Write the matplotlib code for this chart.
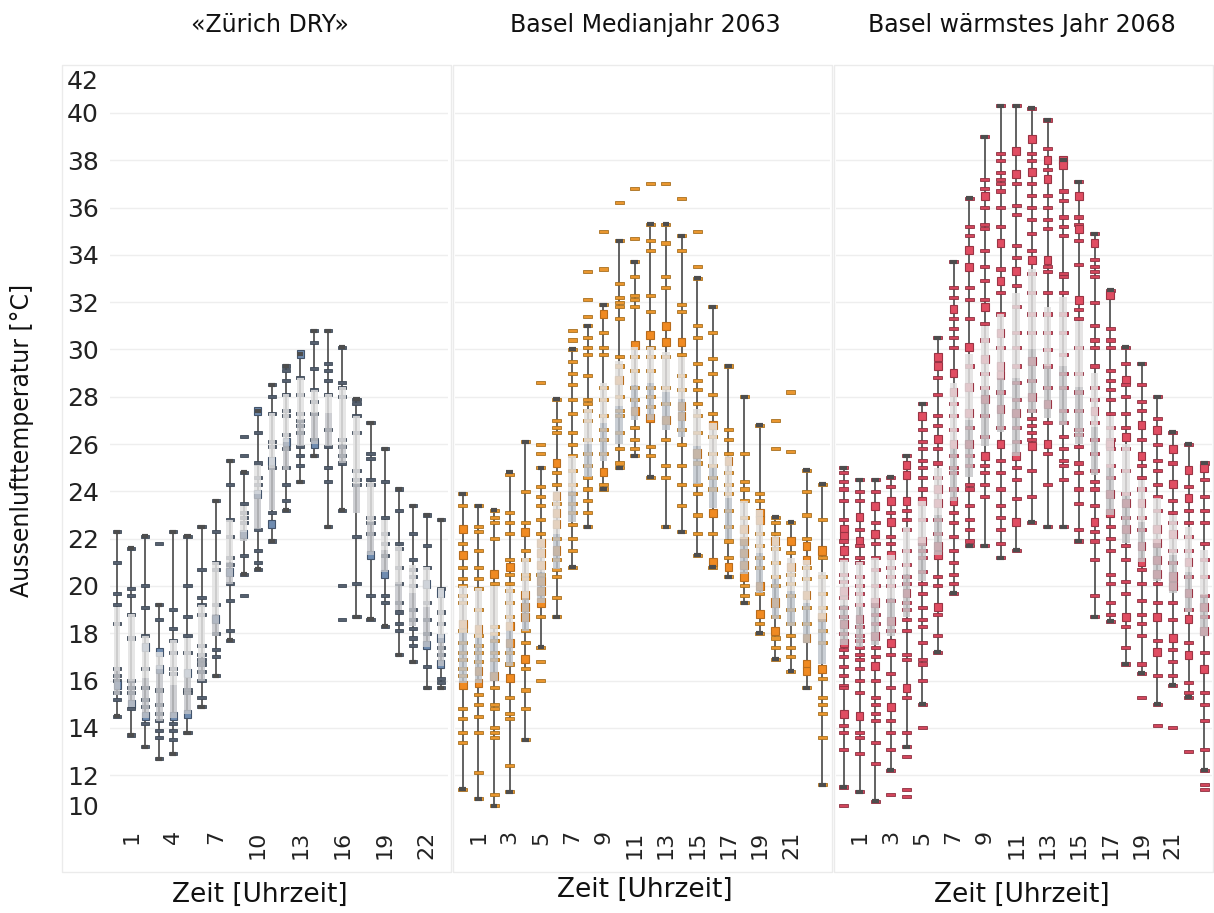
from collections import Counter
import matplotlib.pyplot as plt
from matplotlib.patches import Rectangle

hours = list(range(24))

# ---------------- «Zürich DRY» ----------------
hi1 = [22.3, 21.6, 22.1, 19.2, 22.3, 22.1, 22.5, 23.6, 25.3, 24.8, 27.4, 28.5,
       29.3, 29.8, 30.8, 30.8, 30.1, 27.9, 26.9, 25.8, 24.1, 23.4, 23.0, 22.8]
lo1 = [14.5, 13.7, 13.2, 12.7, 12.9, 13.8, 14.9, 16.2, 17.7, 20.5, 20.7, 21.9,
       23.2, 24.4, 25.5, 22.5, 23.2, 18.7, 18.6, 18.3, 17.1, 16.8, 15.7, 15.7]
bhi1 = [19.1, 18.8, 17.9, 17.2, 17.7, 17.8, 19.2, 21.0, 22.8, 23.4, 25.1, 27.3,
        28.1, 28.8, 28.3, 28.1, 28.4, 27.2, 24.4, 22.8, 21.7, 20.9, 20.8, 19.9]
med1 = [16.4, 16.0, 16.1, 16.5, 15.8, 16.1, 17.0, 18.8, 21.0, 22.3, 23.9, 25.0,
        26.1, 27.0, 27.3, 27.3, 26.0, 24.3, 22.7, 21.5, 20.1, 19.7, 19.1, 17.8]
blo1 = [15.4, 14.9, 14.4, 14.3, 14.4, 14.6, 16.0, 17.9, 20.1, 21.9, 22.4, 23.2,
        24.9, 25.9, 26.0, 25.9, 25.2, 23.1, 21.3, 20.6, 19.0, 18.3, 17.4, 16.6]
days1 = [
    [22.3, 21.0, 19.7, 19.2, 18.4, 16.5, 16.2, 16.0, 15.8, 15.8, 15.5, 15.2, 14.5],
    [21.6, 19.9, 19.6, 18.8, 17.8, 16.0, 15.7, 15.5, 15.0, 15.0, 14.8, 13.7],
    [22.1, 20.0, 19.1, 17.9, 17.4, 17.4, 16.5, 15.7, 15.2, 14.9, 14.5, 14.5, 14.2, 13.2],
    [21.8, 19.2, 18.6, 17.2, 17.2, 16.5, 16.5, 15.6, 15.0, 14.6, 14.3, 13.9, 13.6, 12.7],
    [22.3, 19.0, 18.2, 17.7, 17.2, 16.5, 16.3, 14.5, 14.5, 14.2, 13.9, 13.5, 12.9],
    [22.1, 20.0, 18.7, 17.9, 17.2, 16.3, 16.3, 15.6, 15.5, 14.6, 14.6, 13.8],
    [22.5, 20.7, 19.5, 19.2, 18.8, 17.5, 17.1, 16.9, 16.7, 16.4, 16.0, 15.3, 14.9],
    [23.6, 22.3, 21.0, 20.7, 19.2, 18.6, 18.6, 18.0, 17.3, 17.0, 16.2],
    [25.3, 24.3, 22.8, 22.1, 21.2, 20.9, 20.6, 20.6, 20.1, 19.4, 18.1, 17.7],
    [26.3, 25.5, 24.8, 23.5, 23.1, 22.9, 22.7, 22.2, 22.2, 21.3, 20.5, 19.6],
    [27.4, 27.4, 26.5, 25.2, 24.6, 24.3, 23.9, 23.9, 22.4, 21.5, 21.0, 20.7],
    [28.5, 28.0, 27.3, 26.1, 25.9, 25.3, 25.3, 25.0, 23.1, 22.6, 22.6, 21.9],
    [29.3, 29.1, 28.7, 28.1, 27.4, 27.2, 26.4, 26.1, 26.1, 25.8, 25.0, 24.3, 23.6, 23.2],
    [29.8, 29.8, 28.8, 28.1, 27.3, 27.0, 26.8, 26.5, 25.9, 25.5, 25.1, 24.4],
    [30.8, 30.3, 29.2, 28.3, 27.8, 27.3, 26.2, 26.0, 26.0, 25.5],
    [30.8, 29.4, 29.1, 28.7, 28.1, 26.6, 25.9, 25.0, 24.4, 22.5],
    [30.1, 28.6, 28.4, 28.0, 26.2, 25.9, 25.5, 25.2, 23.2, 20.0, 18.6],
    [27.9, 27.7, 27.2, 26.5, 24.9, 24.5, 24.3, 22.1, 20.1, 18.7],
    [26.9, 25.6, 25.4, 24.5, 24.3, 22.9, 22.7, 22.2, 21.3, 21.3, 19.6, 18.6],
    [25.8, 24.4, 22.9, 22.2, 21.8, 21.3, 20.5, 20.5, 19.6, 19.3, 18.3],
    [24.1, 23.2, 21.8, 21.6, 20.8, 20.1, 19.3, 18.9, 18.4, 18.1, 17.1],
    [23.4, 22.2, 21.1, 20.7, 20.4, 20.0, 19.0, 18.6, 18.2, 17.8, 17.5, 16.8],
    [23.0, 21.7, 20.8, 20.1, 20.1, 19.3, 18.6, 18.0, 17.5, 17.5, 16.6, 15.7],
    [22.8, 19.9, 19.7, 19.7, 18.9, 18.4, 17.8, 17.8, 17.4, 17.1, 16.7, 16.7, 16.1, 15.9, 15.7],
]

# ---------------- Basel Medianjahr 2063 ----------------
hi2 = [23.9, 23.4, 23.2, 24.8, 26.1, 25.0, 27.9, 30.0, 31.0, 31.9, 34.6, 33.7,
       35.3, 35.3, 34.8, 33.0, 31.8, 29.3, 28.0, 26.8, 22.9, 22.7, 24.9, 24.3]
lo2 = [11.4, 11.0, 10.7, 11.3, 13.5, 17.4, 18.7, 20.8, 22.5, 24.1, 25.0, 25.5,
       24.6, 22.5, 22.3, 21.3, 20.8, 20.4, 19.3, 18.0, 16.9, 16.4, 15.7, 11.6]
bhi2 = [20.0, 19.9, 20.0, 20.0, 21.2, 22.0, 24.0, 25.5, 27.5, 28.6, 29.5, 30.1,
        30.1, 29.9, 29.7, 27.5, 26.9, 25.5, 23.6, 23.2, 22.1, 21.2, 21.1, 20.6]
med2 = [18.0, 17.8, 17.9, 18.1, 19.5, 20.6, 22.2, 24.0, 26.0, 26.9, 27.6, 28.5,
        28.6, 28.2, 27.9, 25.9, 25.0, 23.7, 22.0, 21.4, 20.3, 19.8, 19.3, 18.6]
blo2 = [15.9, 15.9, 16.0, 16.6, 18.1, 19.3, 20.7, 22.7, 24.6, 25.3, 26.0, 27.0,
        27.0, 26.6, 26.3, 24.3, 23.3, 22.0, 20.5, 19.7, 18.6, 18.3, 17.6, 16.7]
days2 = [
    [23.9, 23.4, 22.4, 22.4, 21.8, 21.3, 21.3, 20.8, 20.3, 20.0, 19.6, 19.3, 18.4, 18.4, 18.1, 17.6, 17.2, 16.9, 16.5, 16.2, 15.8, 15.8, 14.8, 14.4, 13.8, 13.4, 11.4],
    [23.4, 22.5, 22.3, 21.5, 20.8, 20.3, 19.9, 19.0, 18.2, 18.2, 17.9, 17.5, 17.2, 16.8, 16.4, 16.4, 15.9, 15.9, 15.4, 15.0, 14.5, 13.8, 12.1, 11.0],
    [23.2, 22.9, 22.7, 22.0, 20.5, 20.5, 20.1, 18.3, 18.0, 17.7, 17.2, 16.9, 16.2, 16.2, 15.7, 15.0, 14.8, 14.0, 13.8, 13.6, 11.2, 10.7],
    [24.7, 23.1, 22.7, 22.2, 21.1, 20.8, 20.8, 20.5, 20.1, 19.8, 19.3, 18.7, 18.3, 18.3, 17.6, 17.6, 17.2, 16.7, 16.1, 16.1, 15.3, 14.6, 14.4, 12.4, 11.3],
    [26.1, 24.0, 22.7, 22.3, 22.3, 21.5, 21.1, 20.5, 20.3, 19.6, 19.6, 19.1, 19.1, 18.7, 18.7, 18.1, 17.6, 16.9, 16.9, 16.5, 15.6, 14.8, 13.5],
    [28.6, 26.0, 25.6, 25.0, 24.2, 23.8, 23.4, 22.8, 22.2, 21.8, 21.8, 21.4, 21.4, 20.9, 20.9, 20.5, 20.2, 20.2, 19.8, 19.8, 19.3, 19.3, 18.7, 17.4, 16.8, 16.0],
    [27.9, 27.0, 26.7, 26.5, 25.2, 25.2, 24.8, 24.3, 23.8, 23.8, 23.5, 23.1, 23.1, 22.6, 22.6, 22.0, 21.5, 21.5, 21.1, 20.7, 20.4, 19.5, 18.7],
    [30.8, 30.4, 30.0, 29.5, 29.0, 28.5, 27.9, 27.3, 26.5, 26.0, 25.5, 24.9, 24.3, 23.9, 23.5, 23.1, 22.6, 22.0, 21.5, 20.8],
    [33.3, 32.1, 31.4, 31.0, 30.5, 30.1, 29.8, 28.9, 27.9, 27.7, 27.4, 27.0, 26.2, 25.6, 25.1, 24.6, 24.1, 23.6, 23.1, 22.5],
    [35.0, 33.4, 31.9, 31.5, 31.5, 30.7, 30.1, 29.8, 28.4, 27.9, 27.2, 26.6, 26.2, 25.6, 24.8, 24.8, 24.3, 24.1],
    [36.2, 34.6, 32.8, 32.2, 32.0, 31.8, 31.3, 29.7, 29.3, 28.7, 28.7, 28.0, 27.4, 27.2, 26.5, 25.8, 25.2, 25.0],
    [36.8, 34.7, 33.7, 33.1, 32.3, 32.1, 31.8, 30.2, 30.2, 29.7, 29.1, 28.4, 27.9, 27.4, 27.4, 26.7, 26.2, 25.8, 25.5],
    [37.0, 35.3, 34.6, 34.2, 32.3, 31.6, 30.6, 30.6, 30.1, 29.7, 29.1, 28.4, 28.0, 27.6, 27.1, 27.1, 25.9, 25.5, 24.6],
    [37.0, 35.3, 34.5, 33.1, 32.6, 31.0, 31.0, 30.3, 30.3, 29.7, 28.4, 27.7, 27.0, 27.0, 26.2, 25.1, 24.6, 22.5],
    [36.4, 34.8, 34.2, 31.9, 31.6, 30.3, 30.3, 29.8, 28.9, 28.3, 27.6, 27.6, 27.2, 27.2, 26.6, 26.0, 25.1, 24.3, 23.4, 22.3],
    [35.0, 33.5, 33.0, 31.0, 30.5, 29.4, 28.7, 28.3, 27.7, 27.2, 26.5, 25.6, 25.6, 25.2, 24.3, 23.9, 23.0, 22.2, 21.3],
    [31.8, 30.7, 29.6, 29.0, 28.1, 27.3, 26.8, 26.8, 26.3, 25.6, 25.1, 24.6, 24.1, 23.1, 23.1, 22.2, 21.0, 21.0, 20.8],
    [29.3, 26.6, 26.2, 25.6, 25.3, 25.3, 24.8, 24.3, 23.9, 23.2, 22.5, 21.9, 21.2, 20.8, 20.8, 20.4],
    [28.0, 25.6, 24.4, 24.1, 23.6, 22.9, 22.4, 22.4, 21.9, 21.9, 21.4, 21.4, 20.9, 20.9, 20.4, 20.4, 20.0, 19.6, 19.3],
    [26.8, 23.9, 23.6, 23.1, 23.1, 22.8, 22.8, 22.2, 21.7, 21.2, 20.8, 20.0, 20.0, 19.7, 18.8, 18.8, 18.4, 18.0],
    [27.0, 25.8, 22.9, 22.7, 22.2, 21.9, 21.9, 21.6, 21.0, 20.4, 20.0, 19.3, 19.3, 18.7, 18.1, 18.1, 17.8, 17.4, 16.9],
    [28.2, 25.7, 22.7, 21.9, 21.9, 21.4, 20.8, 20.8, 20.5, 20.1, 19.6, 19.0, 18.4, 17.9, 17.4, 17.0, 16.4],
    [24.9, 24.0, 23.0, 22.0, 21.7, 21.7, 21.1, 21.1, 20.8, 20.3, 19.6, 19.6, 19.1, 18.4, 17.8, 17.8, 16.7, 16.7, 16.4, 16.4, 15.7],
    [24.3, 22.8, 21.5, 21.5, 21.2, 20.4, 19.7, 19.1, 18.7, 18.7, 18.1, 17.6, 16.5, 16.5, 16.1, 15.3, 15.0, 14.6, 13.6, 11.6],
]

# ---------------- Basel wärmstes Jahr 2068 ----------------
hi3 = [25.0, 24.5, 24.5, 24.6, 25.5, 27.7, 30.5, 33.7, 36.4, 39.0, 40.3, 40.3,
       40.2, 39.7, 38.0, 37.1, 34.9, 32.5, 30.1, 29.4, 28.0, 26.5, 26.0, 25.2]
lo3 = [11.5, 11.3, 10.9, 12.2, 13.2, 15.0, 17.2, 19.7, 21.7, 21.7, 21.2, 21.5,
       22.7, 22.5, 22.5, 21.9, 18.7, 18.5, 16.7, 16.3, 15.0, 15.8, 15.3, 12.2]
bhi3 = [21.1, 21.0, 21.2, 21.3, 22.5, 23.6, 25.0, 28.6, 29.8, 31.0, 31.5, 32.4,
        33.4, 31.8, 32.2, 31.2, 29.0, 27.2, 26.0, 24.5, 23.7, 23.0, 22.5, 21.5]
med3 = [19.2, 19.1, 19.3, 19.5, 20.5, 21.8, 23.0, 25.8, 27.0, 28.3, 28.8, 28.8,
        30.0, 29.3, 29.3, 28.4, 26.7, 25.0, 23.8, 22.7, 21.8, 21.3, 20.6, 19.6]
blo3 = [17.5, 17.4, 17.5, 17.9, 18.7, 20.2, 21.3, 23.6, 24.6, 25.9, 26.5, 25.5,
        27.3, 27.1, 26.8, 26.0, 24.7, 23.0, 21.8, 21.0, 20.2, 19.7, 18.9, 17.9]
days3 = [
    [25.0, 24.8, 24.4, 24.1, 23.6, 22.8, 22.4, 22.4, 22.1, 22.1, 21.9, 21.5, 21.5, 21.1, 20.5, 20.2, 19.8, 19.8, 19.5, 19.1, 18.7, 18.4, 18.4, 18.0, 17.6, 17.6, 17.3, 17.0, 16.6, 16.2, 15.8, 15.7, 14.6, 14.6, 14.1, 13.8, 13.1, 11.5, 10.7],
    [24.5, 24.0, 23.6, 22.9, 22.9, 22.4, 21.9, 21.9, 21.7, 21.2, 21.0, 20.4, 20.0, 19.7, 19.2, 18.6, 18.6, 18.3, 17.9, 17.7, 17.4, 17.1, 16.9, 16.5, 16.0, 15.5, 14.5, 14.5, 13.8, 13.6, 12.9, 11.3],
    [24.5, 24.0, 23.4, 23.4, 22.7, 22.2, 22.2, 21.8, 21.2, 20.7, 20.0, 19.3, 19.3, 18.8, 18.4, 17.9, 17.9, 17.4, 17.0, 16.6, 16.6, 16.0, 15.3, 15.0, 14.6, 14.3, 13.4, 12.5, 10.9],
    [24.6, 24.2, 23.6, 23.6, 23.1, 22.7, 22.7, 22.1, 21.8, 21.3, 21.3, 20.8, 20.4, 20.0, 19.4, 18.5, 18.5, 18.1, 17.6, 17.6, 17.1, 16.3, 15.7, 14.9, 14.9, 14.3, 13.8, 13.1, 12.2, 11.2],
    [25.5, 25.1, 25.1, 24.7, 24.7, 23.6, 23.6, 23.2, 22.8, 22.4, 21.5, 20.9, 20.4, 20.1, 19.7, 19.7, 19.3, 19.0, 18.6, 18.1, 17.1, 16.9, 15.7, 15.7, 15.3, 13.8, 13.2, 12.8, 11.4, 11.1],
    [27.7, 27.2, 27.2, 26.6, 26.1, 25.8, 25.3, 25.0, 24.6, 24.1, 23.6, 23.6, 22.8, 21.9, 21.9, 21.5, 21.2, 20.6, 20.1, 19.7, 19.1, 18.6, 18.3, 17.6, 16.9, 16.7, 16.0, 15.0, 14.0],
    [30.5, 29.7, 29.7, 29.3, 29.3, 28.8, 28.1, 27.2, 26.8, 26.2, 26.2, 25.8, 25.2, 24.6, 24.1, 24.1, 23.5, 23.5, 22.8, 22.2, 21.7, 21.7, 21.3, 21.3, 20.4, 20.0, 19.1, 19.1, 18.8, 17.9, 17.2],
    [33.7, 32.6, 32.2, 31.7, 31.7, 31.3, 30.9, 30.5, 30.1, 29.0, 29.0, 28.2, 28.2, 27.7, 27.2, 26.6, 26.0, 26.0, 25.5, 25.0, 24.8, 24.1, 23.6, 23.6, 23.1, 22.7, 22.1, 21.5, 21.0, 20.5, 20.1, 19.7],
    [36.4, 35.2, 34.8, 34.2, 34.2, 33.5, 33.5, 32.6, 32.1, 31.3, 30.1, 30.1, 29.3, 28.4, 28.4, 27.3, 27.3, 26.7, 26.0, 26.0, 25.5, 25.1, 24.3, 24.1, 23.4, 22.8, 22.4, 21.9, 21.7],
    [39.0, 37.2, 36.8, 36.5, 36.5, 36.0, 35.3, 35.1, 34.2, 33.5, 32.9, 32.1, 31.8, 31.8, 31.1, 30.4, 29.6, 29.6, 29.0, 28.4, 27.9, 27.9, 27.2, 26.3, 25.5, 25.5, 25.1, 24.8, 24.3, 23.8, 21.7],
    [40.3, 38.3, 38.0, 37.5, 37.2, 37.0, 36.7, 36.0, 35.2, 34.5, 34.5, 33.4, 32.9, 32.9, 32.4, 31.5, 30.7, 30.7, 30.1, 29.3, 29.3, 28.9, 28.9, 28.2, 27.5, 27.5, 26.7, 26.0, 26.0, 25.3, 24.8, 24.1, 23.4, 22.9, 22.4, 21.8, 21.2],
    [40.3, 38.4, 38.4, 37.4, 37.4, 37.0, 36.1, 35.7, 34.4, 33.9, 33.3, 33.3, 32.7, 31.8, 30.7, 30.1, 29.3, 28.6, 27.9, 27.3, 27.3, 26.7, 26.1, 25.5, 25.5, 25.0, 24.5, 23.7, 22.7, 22.7, 21.5],
    [40.2, 38.9, 38.9, 38.3, 38.0, 37.5, 37.5, 37.0, 36.5, 36.0, 35.5, 34.9, 34.2, 33.8, 33.8, 33.2, 32.4, 31.5, 30.7, 29.5, 29.5, 28.7, 28.0, 28.0, 27.4, 27.1, 26.8, 26.5, 26.2, 25.9, 25.9, 24.9, 23.8, 22.7],
    [39.7, 38.5, 38.0, 38.0, 37.6, 37.2, 37.2, 36.5, 36.0, 35.5, 35.1, 33.8, 33.8, 33.5, 33.3, 32.4, 31.5, 30.7, 30.0, 29.3, 28.4, 27.7, 27.7, 26.9, 26.0, 26.0, 25.6, 24.3, 22.5],
    [38.0, 38.0, 37.8, 37.8, 36.7, 36.3, 35.6, 35.2, 34.8, 33.2, 33.1, 32.4, 31.5, 30.7, 29.8, 29.0, 28.4, 27.4, 26.9, 26.3, 25.8, 25.3, 25.1, 24.5, 22.5],
    [37.1, 36.5, 36.5, 35.6, 35.3, 35.1, 35.1, 34.6, 33.6, 32.1, 32.1, 31.7, 31.3, 30.1, 29.0, 28.2, 27.4, 26.6, 26.4, 25.9, 25.2, 24.8, 24.1, 23.5, 22.4, 21.9],
    [34.9, 34.5, 34.5, 33.8, 33.5, 33.3, 33.1, 32.0, 31.0, 30.4, 30.1, 29.3, 28.4, 27.9, 27.4, 27.4, 26.9, 26.2, 25.6, 24.9, 24.4, 24.1, 23.4, 22.7, 22.7, 22.3, 21.9, 21.1, 19.6, 18.7],
    [32.5, 32.3, 32.3, 30.9, 30.4, 30.1, 29.1, 28.7, 28.3, 27.9, 27.3, 26.7, 26.2, 26.0, 26.0, 25.8, 25.1, 24.6, 23.9, 23.9, 23.1, 23.1, 22.5, 22.0, 21.5, 20.5, 20.1, 19.3, 18.8, 18.5],
    [30.1, 29.4, 28.7, 28.7, 28.5, 28.0, 27.3, 26.7, 26.3, 26.3, 25.8, 24.9, 23.9, 23.5, 23.5, 22.9, 22.4, 22.4, 21.7, 21.1, 20.2, 19.7, 18.7, 18.7, 18.3, 17.4, 16.7],
    [29.4, 28.5, 27.8, 27.4, 26.8, 26.8, 26.2, 25.5, 25.5, 25.1, 24.6, 24.1, 23.5, 23.5, 22.9, 22.4, 21.7, 21.7, 21.0, 21.0, 20.7, 20.1, 19.4, 18.8, 18.4, 17.9, 16.7, 16.3, 15.3],
    [28.0, 27.1, 26.6, 26.6, 26.0, 25.3, 24.9, 24.3, 23.8, 23.2, 22.4, 22.4, 21.8, 21.8, 21.1, 21.1, 20.5, 20.5, 20.1, 19.3, 18.7, 18.7, 17.7, 17.2, 17.2, 16.2, 15.0, 14.1],
    [26.5, 25.8, 25.8, 25.2, 24.3, 24.3, 23.6, 23.1, 22.7, 22.2, 22.2, 21.5, 21.0, 20.4, 20.4, 20.0, 20.0, 19.3, 18.6, 17.8, 17.8, 17.3, 16.8, 16.2, 15.8, 14.0],
    [26.0, 24.9, 24.9, 24.2, 23.7, 23.7, 23.2, 22.7, 22.1, 21.5, 21.0, 21.0, 20.4, 19.7, 19.7, 19.0, 18.6, 18.6, 17.6, 17.1, 17.1, 15.9, 15.5, 15.3, 13.0],
    [25.2, 25.0, 25.0, 24.5, 23.8, 23.2, 22.7, 21.8, 21.1, 20.4, 19.6, 19.1, 19.1, 18.7, 18.1, 18.1, 17.2, 16.5, 16.5, 15.5, 15.0, 14.3, 13.1, 12.2, 11.6, 11.4],
]

titles = ['«Zürich DRY»', 'Basel Medianjahr 2063', 'Basel wärmstes Jahr 2068']
xticks_list = [[1, 4, 7, 10, 13, 16, 19, 22], list(range(1, 22, 2)), list(range(1, 22, 2))]
ytick_vals = [10.7] + list(range(12, 41, 2)) + [41.4]
ytick_text = ['10'] + [str(v) for v in range(12, 41, 2)] + ['42']

panels = [
    dict(hi=hi1, lo=lo1, bhi=bhi1, med=med1, blo=blo1, days=days1,
         c1=('#56606e', '#3f4a58'), c2=('#6f8cb0', '#43546b'), band=('#e2e2e2', '#c2c4c8')),
    dict(hi=hi2, lo=lo2, bhi=bhi2, med=med2, blo=blo2, days=days2,
         c1=('#e9962f', '#a8701f'), c2=('#f08a22', '#b86c1c'), band=('#e2e0de', '#bcc2ca')),
    dict(hi=hi3, lo=lo3, bhi=bhi3, med=med3, blo=blo3, days=days3,
         c1=('#d2465c', '#8e3040'), c2=('#e04d62', '#9a3444'), band=('#e2e0e0', '#c4c4c6')),
]

W, H = 1214, 913
fig = plt.figure(figsize=(W / 100, H / 100), dpi=100)
plt.rcParams['font.family'] = ['DejaVu Sans']

# faint panel frames (behind everything)
for x0, x1 in [(62, 451), (453, 832), (834, 1213)]:
    fig.patches.append(Rectangle((x0 / W, 1 - 872 / H), (x1 - x0) / W, (872 - 65) / H,
                                 transform=fig.transFigure, facecolor='none',
                                 edgecolor='#ebebeb', lw=1, zorder=-10))

ax_pos = [(110, 448), (455, 830), (836, 1212)]
title_x = [270, 645, 1022]
xlab = [(260, 895), (645, 890), (1022, 895)]
bottom, top = 822, 68

for i, p in enumerate(panels):
    x0, x1 = ax_pos[i]
    ax = fig.add_axes([x0 / W, 1 - bottom / H, (x1 - x0) / W, (bottom - top) / H])
    ax.set_facecolor('none')
    ax.set_xlim(-0.5, 23.5)
    ax.set_ylim(10.02, 41.9)
    for s in ax.spines.values():
        s.set_visible(False)
    for g in range(12, 41, 2):
        ax.axhline(g, color='#eeeeee', lw=1, zorder=0)

    # whiskers + caps
    ax.vlines(hours, p['lo'], p['hi'], color='#555555', lw=1.3, zorder=1)
    ax.hlines(p['hi'], [h - 0.22 for h in hours], [h + 0.22 for h in hours],
              color='#4d4d4d', lw=3, zorder=5)
    ax.hlines(p['lo'], [h - 0.22 for h in hours], [h + 0.22 for h in hours],
              color='#4d4d4d', lw=3, zorder=5)

    # daily values
    for h, vals in zip(hours, p['days']):
        cnt = Counter(vals)
        for v, n in cnt.items():
            if n == 1:
                ax.bar(h, 0.13, bottom=v - 0.065, width=0.58, color=p['c1'][0],
                       edgecolor=p['c1'][1], lw=0.6, zorder=2)
            else:
                ax.bar(h, 0.34, bottom=v - 0.17, width=0.5, color=p['c2'][0],
                       edgecolor=p['c2'][1], lw=0.8, zorder=2)

    # band (drawn over the dashes, semi-transparent)
    ax.bar(hours, [a - b for a, b in zip(p['bhi'], p['med'])], bottom=p['med'],
           width=0.48, color=p['band'][0], alpha=0.84, lw=0, zorder=3)
    ax.bar(hours, [a - b for a, b in zip(p['med'], p['blo'])], bottom=p['blo'],
           width=0.48, color=p['band'][1], alpha=0.8, lw=0, zorder=3)

    ax.set_xticks(xticks_list[i])
    ax.set_xticklabels([str(t) for t in xticks_list[i]], rotation=90, fontsize=16,
                       color='#222222')
    ax.tick_params(axis='both', length=0, pad=6)
    if i == 0:
        ax.set_yticks(ytick_vals)
        ax.set_yticklabels(ytick_text, fontsize=18, color='#222222')
        ax.tick_params(axis='y', pad=8)
    else:
        ax.set_yticks([])

    fig.text(title_x[i] / W, 1 - 25 / H, titles[i], ha='center', va='center',
             fontsize=17, color='#111111')
    fig.text(xlab[i][0] / W, 1 - xlab[i][1] / H, 'Zeit [Uhrzeit]', ha='center',
             va='center', fontsize=19, color='#111111')

fig.text(22 / W, 1 - 440 / H, 'Aussenlufttemperatur [°C]', rotation=90,
         ha='center', va='center', fontsize=17, color='#111111')

fig.savefig('out.png', dpi=100)
